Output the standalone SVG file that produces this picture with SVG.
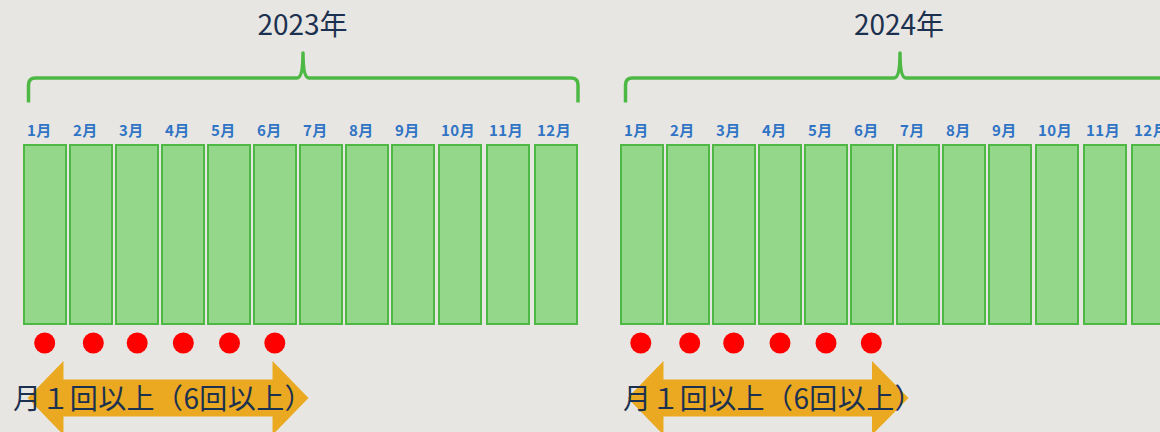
<svg xmlns="http://www.w3.org/2000/svg" width="1160" height="432" viewBox="0 0 1160 432">
<defs>
<style>
.bg{fill:#E8E6E2}
.title{font-family:"Noto Sans CJK JP","Noto Sans",sans-serif;font-size:28px;fill:#1C3150;text-anchor:middle}
.brace{fill:none;stroke:#4DB944;stroke-width:3.5;stroke-linecap:butt;stroke-linejoin:round}
.m rect{fill:#94D78B;stroke:#4DB944;stroke-width:2}
.m text{font-family:"Noto Sans CJK JP","Noto Sans",sans-serif;font-size:15px;font-weight:bold;fill:#2F74C5;letter-spacing:0.5px}
.dot{fill:#FF0000}
.arrow{fill:#EAA920}
.note{font-family:"Noto Sans CJK JP","Noto Sans",sans-serif;font-size:28px;fill:#1C3150;letter-spacing:0.4px}
</style>
</defs>
<rect class="bg" x="0" y="0" width="1160" height="432"/>

<g id="year-2023">
<text id="title-2023" class="title" x="302.5" y="34.5">2023年</text>
<path id="brace-2023" class="brace" d="M28.5,102.5 V85 Q28.5,78 35.5,78 H297 Q303,78 303,53 Q303,78 309,78 H571 Q578,78 578,85 V102.5"/>
<g id="m2023-1" class="m"><rect x="24" y="145" width="42" height="179"/><text x="27" y="136">1月</text></g>
<g id="m2023-2" class="m"><rect x="70" y="145" width="42" height="179"/><text x="73" y="136">2月</text></g>
<g id="m2023-3" class="m"><rect x="116" y="145" width="42" height="179"/><text x="119" y="136">3月</text></g>
<g id="m2023-4" class="m"><rect x="162" y="145" width="42" height="179"/><text x="165" y="136">4月</text></g>
<g id="m2023-5" class="m"><rect x="208" y="145" width="42" height="179"/><text x="211" y="136">5月</text></g>
<g id="m2023-6" class="m"><rect x="254" y="145" width="42" height="179"/><text x="257" y="136">6月</text></g>
<g id="m2023-7" class="m"><rect x="300" y="145" width="42" height="179"/><text x="303" y="136">7月</text></g>
<g id="m2023-8" class="m"><rect x="346" y="145" width="42" height="179"/><text x="349" y="136">8月</text></g>
<g id="m2023-9" class="m"><rect x="392" y="145" width="42" height="179"/><text x="395" y="136">9月</text></g>
<g id="m2023-10" class="m"><rect x="439" y="145" width="42" height="179"/><text x="441" y="136">10月</text></g>
<g id="m2023-11" class="m"><rect x="487" y="145" width="42" height="179"/><text x="489" y="136">11月</text></g>
<g id="m2023-12" class="m"><rect x="535" y="145" width="42" height="179"/><text x="537" y="136">12月</text></g>
<g id="dots-2023">
<circle class="dot" cx="44.7" cy="343" r="10.5"/>
<circle class="dot" cx="93.3" cy="343" r="10.5"/>
<circle class="dot" cx="137.2" cy="343" r="10.5"/>
<circle class="dot" cx="183.3" cy="343" r="10.5"/>
<circle class="dot" cx="229.5" cy="343" r="10.5"/>
<circle class="dot" cx="274.8" cy="343" r="10.5"/>
</g>
<g id="span-2023">
<polygon class="arrow" points="27.5,398 63.5,361 63.5,379.5 272.5,379.5 272.5,361 308.5,398 272.5,435 272.5,416.5 63.5,416.5 63.5,435"/>
<text class="note" x="13" y="409">月１回以上（6回以上）</text>
</g>
</g>

<g id="year-2024">
<text id="title-2024" class="title" x="899" y="34.5">2024年</text>
<path id="brace-2024" class="brace" d="M625.5,102.5 V85 Q625.5,78 632.5,78 H894 Q900,78 900,53 Q900,78 906,78 H1165"/>
<g id="m2024-1" class="m"><rect x="621" y="145" width="42" height="179"/><text x="624" y="136">1月</text></g>
<g id="m2024-2" class="m"><rect x="667" y="145" width="42" height="179"/><text x="670" y="136">2月</text></g>
<g id="m2024-3" class="m"><rect x="713" y="145" width="42" height="179"/><text x="716" y="136">3月</text></g>
<g id="m2024-4" class="m"><rect x="759" y="145" width="42" height="179"/><text x="762" y="136">4月</text></g>
<g id="m2024-5" class="m"><rect x="805" y="145" width="42" height="179"/><text x="808" y="136">5月</text></g>
<g id="m2024-6" class="m"><rect x="851" y="145" width="42" height="179"/><text x="854" y="136">6月</text></g>
<g id="m2024-7" class="m"><rect x="897" y="145" width="42" height="179"/><text x="900" y="136">7月</text></g>
<g id="m2024-8" class="m"><rect x="943" y="145" width="42" height="179"/><text x="946" y="136">8月</text></g>
<g id="m2024-9" class="m"><rect x="989" y="145" width="42" height="179"/><text x="992" y="136">9月</text></g>
<g id="m2024-10" class="m"><rect x="1036" y="145" width="42" height="179"/><text x="1038" y="136">10月</text></g>
<g id="m2024-11" class="m"><rect x="1084" y="145" width="42" height="179"/><text x="1086" y="136">11月</text></g>
<g id="m2024-12" class="m"><rect x="1132" y="145" width="42" height="179"/><text x="1134" y="136">12月</text></g>
<g id="dots-2024">
<circle class="dot" cx="640.8" cy="343" r="10.5"/>
<circle class="dot" cx="689.7" cy="343" r="10.5"/>
<circle class="dot" cx="733.7" cy="343" r="10.5"/>
<circle class="dot" cx="780" cy="343" r="10.5"/>
<circle class="dot" cx="826" cy="343" r="10.5"/>
<circle class="dot" cx="871.3" cy="343" r="10.5"/>
</g>
<g id="span-2024">
<polygon class="arrow" points="627.5,398 663.5,361 663.5,379.5 872,379.5 872,361 908.5,398 872,435 872,416.5 663.5,416.5 663.5,435"/>
<text class="note" x="623" y="409">月１回以上（6回以上）</text>
</g>
</g>
</svg>
